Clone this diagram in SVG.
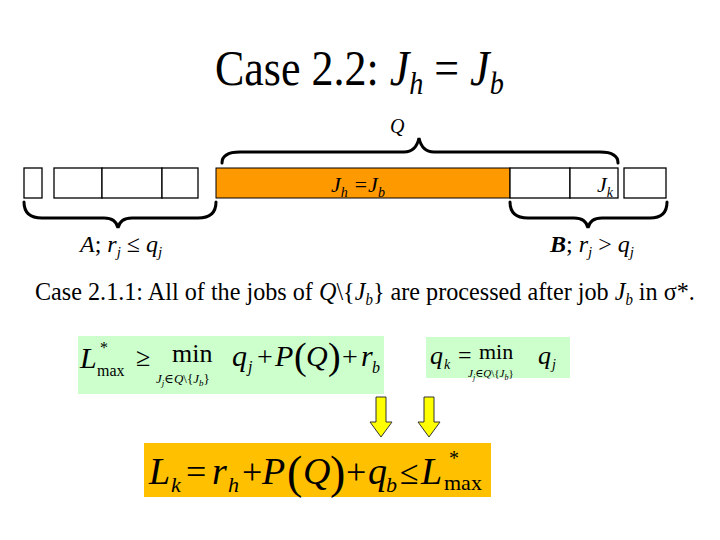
<svg xmlns="http://www.w3.org/2000/svg" width="720" height="540" viewBox="0 0 720 540" font-family="'Liberation Serif', 'DejaVu Serif', 'Times New Roman', serif">
<style>
text{font-family:'Liberation Serif','DejaVu Serif','Times New Roman',serif;fill:#000}
.i{font-style:italic}
.cell{fill:#fff;stroke:#000;stroke-width:1.3}
.brace{fill:none;stroke:#000;stroke-width:3;stroke-linecap:round}
.arrow{fill:#ffff00;stroke:#333;stroke-width:1}
</style>
<rect width="720" height="540" fill="#fff"/>
<g id="title">
<text transform="translate(215,85) scale(0.88,1)" font-size="50">Case 2.2: <tspan class="i">J</tspan><tspan class="i" font-size="32" dy="9">h</tspan><tspan dy="-9"> = </tspan><tspan class="i">J</tspan><tspan class="i" font-size="32" dy="9">b</tspan></text>
</g>
<g id="row">
<rect class="cell" x="24" y="168" width="18" height="30"/>
<rect class="cell" x="54" y="168" width="48" height="30"/>
<rect class="cell" x="102" y="168" width="60" height="30"/>
<rect class="cell" x="162" y="168" width="36" height="30"/>
<rect x="216" y="168" width="294" height="30" fill="#ff9900" stroke="#000" stroke-width="1"/>
<rect class="cell" x="510" y="168" width="60" height="30"/>
<rect class="cell" x="570" y="168" width="48" height="30"/>
<rect class="cell" x="624" y="168" width="42" height="30"/>
<text x="331" y="192" font-size="22" class="i">J<tspan font-size="14" dy="5">h</tspan><tspan dy="-5"> =J</tspan><tspan font-size="14" dy="5">b</tspan></text>
<text x="597" y="192" font-size="22" class="i">J<tspan font-size="14" dy="5">k</tspan></text>
</g>
<g id="braces">
<path class="brace" d="M222,163 Q222,152 240,152 L404,152 Q416,152 419,138 Q422,152 434,152 L600,152 Q618,152 618,163"/>
<path class="brace" d="M24,202 Q24,218 42,218 L104,218 Q116,218 118,228 Q120,218 132,218 L198,218 Q216,218 216,202"/>
<path class="brace" d="M510,202 Q510,218 528,218 L574,218 Q586,218 588,228 Q590,218 602,218 L650,218 Q667,218 667,202"/>
<text x="390" y="133" font-size="20" class="i">Q</text>
</g>
<g id="labels">
<text x="80" y="252" font-size="24"><tspan class="i">A</tspan>; <tspan class="i">r</tspan><tspan class="i" font-size="15" dy="5">j</tspan><tspan dy="-5"> ≤ </tspan><tspan class="i">q</tspan><tspan class="i" font-size="15" dy="5">j</tspan></text>
<text x="550" y="252" font-size="24"><tspan class="i" font-weight="bold">B</tspan>; <tspan class="i">r</tspan><tspan class="i" font-size="15" dy="5">j</tspan><tspan dy="-5"> &gt; </tspan><tspan class="i">q</tspan><tspan class="i" font-size="15" dy="5">j</tspan></text>
<text transform="translate(35,300) scale(0.93,1)" font-size="26">Case 2.1.1: All of the jobs of <tspan class="i">Q</tspan>\{<tspan class="i">J</tspan><tspan class="i" font-size="16" dy="5">b</tspan><tspan dy="-5">} are processed after job </tspan><tspan class="i">J</tspan><tspan class="i" font-size="16" dy="5">b</tspan><tspan dy="-5"> in σ*.</tspan></text>
</g>
<g id="formula1">
<rect x="78" y="336" width="306" height="58" fill="#ccffcc"/>
<text font-size="30"><tspan class="i" x="80" y="368">L</tspan><tspan font-size="16" x="100" y="353">*</tspan><tspan font-size="16" x="97" y="376">max</tspan><tspan font-size="26" x="136" y="366">≥</tspan><tspan font-size="26" x="172" y="362">min</tspan><tspan class="i" x="232" y="366">q</tspan><tspan class="i" font-size="16" x="248" y="372">j</tspan><tspan font-size="28" x="257" y="366">+</tspan><tspan class="i" x="275" y="366">P</tspan><tspan font-size="38" x="294" y="369">(</tspan><tspan class="i" x="306" y="366">Q</tspan><tspan font-size="38" x="328" y="369">)</tspan><tspan font-size="28" x="342" y="366">+</tspan><tspan class="i" x="361" y="366">r</tspan><tspan class="i" font-size="16" x="372" y="373">b</tspan></text>
<text x="156" y="383" font-size="13"><tspan class="i">J</tspan><tspan class="i" font-size="9" dy="3">j</tspan><tspan dy="-3">∈</tspan><tspan class="i">Q</tspan>\{<tspan class="i">J</tspan><tspan class="i" font-size="9" dy="3">b</tspan><tspan dy="-3">}</tspan></text>
</g>
<g id="formula2">
<rect x="426" y="337" width="144" height="41" fill="#ccffcc"/>
<text font-size="26"><tspan class="i" x="430" y="364">q</tspan><tspan class="i" font-size="14" x="444" y="369">k</tspan><tspan font-size="24" x="458" y="363">=</tspan><tspan font-size="22" x="479" y="359">min</tspan><tspan class="i" x="538" y="364">q</tspan><tspan class="i" font-size="14" x="552" y="369">j</tspan></text>
<text x="468" y="377" font-size="11"><tspan class="i">J</tspan><tspan class="i" font-size="8" dy="3">j</tspan><tspan dy="-3">∈</tspan><tspan class="i">Q</tspan>\{<tspan class="i">J</tspan><tspan class="i" font-size="8" dy="3">b</tspan><tspan dy="-3">}</tspan></text>
</g>
<g id="arrows">
<path class="arrow" d="M376,397 L386,397 L386,422 L392,422 L381,437 L370,422 L376,422 Z"/>
<path class="arrow" d="M424,397 L434,397 L434,422 L440,422 L429,437 L418,422 L424,422 Z"/>
</g>
<g id="formula3">
<rect x="144" y="443" width="347" height="54" fill="#ffc000"/>
<text font-size="38"><tspan class="i" x="149" y="484">L</tspan><tspan class="i" font-size="22" x="171" y="492">k</tspan><tspan font-size="36" x="186" y="484">=</tspan><tspan class="i" x="212" y="484">r</tspan><tspan class="i" font-size="22" x="228" y="492">h</tspan><tspan font-size="36" x="242" y="484">+</tspan><tspan class="i" x="262" y="484">P</tspan><tspan font-size="46" x="287" y="488">(</tspan><tspan class="i" x="303" y="484">Q</tspan><tspan font-size="46" x="330" y="488">)</tspan><tspan font-size="36" x="346" y="484">+</tspan><tspan class="i" x="368" y="484">q</tspan><tspan class="i" font-size="22" x="386" y="492">b</tspan><tspan font-size="34" x="400" y="484">≤</tspan><tspan class="i" x="421" y="484">L</tspan><tspan font-size="20" x="449" y="465">*</tspan><tspan font-size="22" x="444" y="490">max</tspan></text>
</g>
</svg>
